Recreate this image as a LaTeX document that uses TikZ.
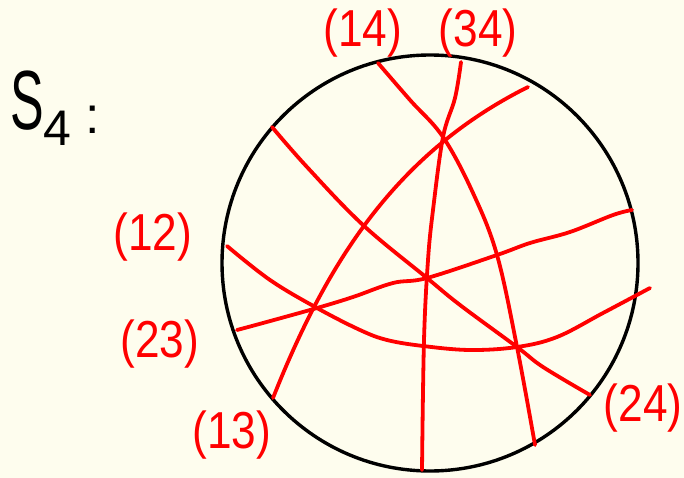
\documentclass[tikz,border=0pt]{standalone}
\usepackage{fontspec}
\setmainfont{Liberation Sans}
\definecolor{bgcream}{RGB}{254,253,238}
\definecolor{pen}{RGB}{255,0,0}
\begin{document}
\begin{tikzpicture}[x=1pt,y=-1pt,
  redline/.style={draw=pen,line width=3.8pt,line cap=round,line join=round},
  lbl/.style={text=pen,font=\fontsize{52}{60}\selectfont,inner sep=0pt,xscale=0.85,transform shape}]
\fill[bgcream] (0,0) rectangle (684,478);
\useasboundingbox (0,0) rectangle (684,478);
% circle
\draw[black,line width=3.4pt] (430,263) circle[radius=208];
% (14) line
\draw[redline] plot[smooth,tension=0.6] coordinates {(378,63) (410,100) (443,137) (473,193) (497,255) (517,347) (535,445)};
% (34) line
\draw[redline] plot[smooth,tension=0.6] coordinates {(461,62) (455,98) (443,137) (433,210) (428,260) (424,340) (422,470)};
% (13) line
\draw[redline] (528,87) .. controls (398,152) and (328,259) .. (273,398);
% (24) line
\draw[redline] plot[smooth,tension=0.6] coordinates {(272,127) (307,167) (363,225) (427,278) (460,305) (517,347) (543,367) (590,395)};
% (12) line
\draw[redline] plot[smooth,tension=0.6] coordinates {(227,246) (270,280) (317,308) (360,330) (387,340) (423,346) (470,350) (517,347) (557,337) (603,313) (650,288)};
% (23) line
\draw[redline] plot[smooth,tension=0.6] coordinates {(237,330) (263,323) (317,308) (353,297) (393,283) (427,278) (497,255) (530,243) (570,232) (613,215) (632,210)};
% labels
\node[lbl] (l14) at (363,33) {(14)};
\node[lbl] (l34) at (478,33) {(34)};
\node[lbl] (l12) at (153,237) {(12)};
\node[lbl] (l23) at (160,344) {(23)};
\node[lbl] (l13) at (232,435) {(13)};
\node[lbl] (l24) at (643,408) {(24)};
% S_4 :
\node[inner sep=0pt,font=\fontsize{84}{90}\selectfont,xscale=0.6,transform shape] (S) at (27,101) {S};
\node[inner sep=0pt,font=\fontsize{50}{56}\selectfont] (four) at (57,128) {4};
\node[inner sep=0pt,font=\fontsize{52}{56}\selectfont] (colon) at (93,120) {:};
\end{tikzpicture}
\end{document}
